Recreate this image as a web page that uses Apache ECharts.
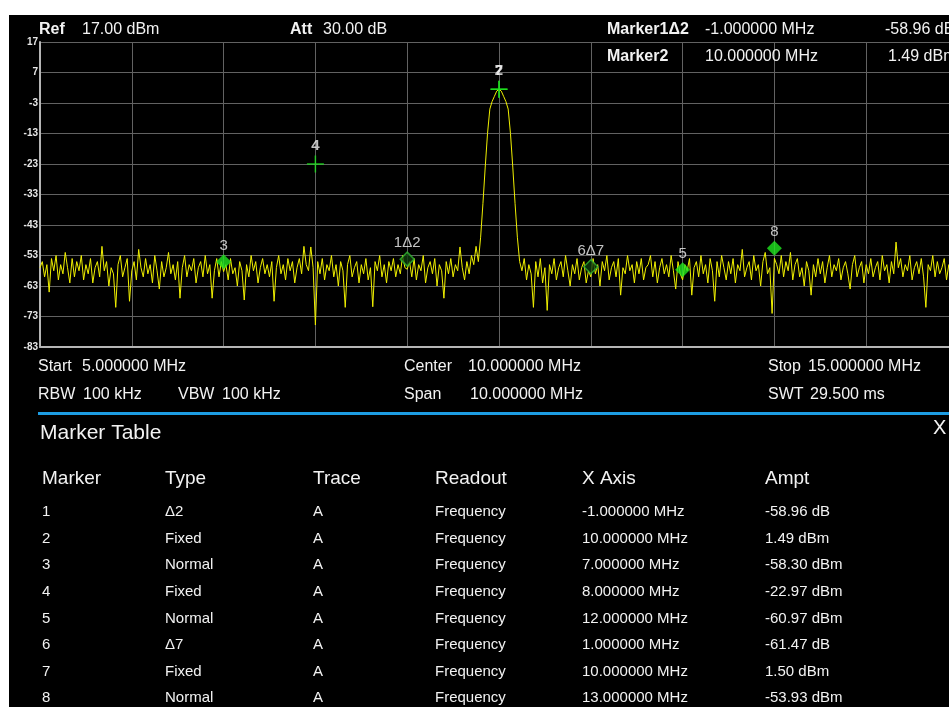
<!DOCTYPE html>
<html>
<head>
<meta charset="utf-8">
<script src="https://cdn.jsdelivr.net/npm/echarts@6/dist/echarts.min.js"></script>
<style>
  html, body { margin: 0; padding: 0; background: #fff; }
  #chart { width: 949px; height: 707px; }
</style>
</head>
<body>
<div id="chart"></div>
<script>
// sweep: 5 .. 15 MHz, 401 points (25 kHz step)
const startFreq = 5;
const stopFreq = 15;
const sweepStep = 0.025;

// trace A amplitudes (dBm)
const traceA = [
  -57, -55, -60, -56, -65, -54, -58, -53, -61, -56, -59, -52, -57, -62, -54, -60, -55, -58, -53, -61,
  -56, -59, -54, -62, -57, -55, -60, -50, -58, -55, -63, -57, -59, -70, -56, -53, -60, -57, -54, -68,
  -58, -55, -61, -51, -57, -60, -54, -59, -56, -62, -53, -58, -64, -55, -60, -57, -52, -59, -56, -61,
  -55, -67, -57, -53, -60, -56, -58, -54, -62, -57, -55, -60, -53, -59, -56, -67, -58, -54, -60, -55,
  -58.3, -56, -61, -54, -59, -57, -63, -55, -58, -67.6, -56, -60, -53, -58, -55, -62, -57, -54, -59, -56,
  -60, -55, -68, -57, -53, -59, -56, -61, -54, -58, -55, -62, -57, -54, -59, -50, -56, -58, -50.2, -57,
  -75.8, -55, -59, -54, -61, -56, -58, -53, -60, -56, -63, -55, -58, -70, -56, -53, -60, -57, -55, -62,
  -56, -59, -54, -61, -57, -69.8, -55, -58, -53, -60, -56, -62, -55, -58, -54, -60, -56, -59, -53, -57,
  -57.5, -55, -60, -54, -61, -56, -58, -53, -62, -57, -55, -59, -54, -63, -56, -58, -67, -55, -59, -54,
  -60, -56, -58, -50.2, -57, -61, -55, -59, -53, -56, -50, -55, -47, -36, -24, -13, -5, -2.5, -0.8, 0.9,
  1.49, 0.9, -0.8, -2.5, -5, -13, -24, -36, -47, -55, -58, -54, -61, -56, -59, -70, -55, -60, -54, -62,
  -57, -71, -56, -59, -54, -61, -57, -55, -60, -53, -58, -63, -56, -59, -54, -61, -57, -55, -62, -58,
  -60, -54, -59, -56, -63, -55, -58, -53, -61, -57, -55, -60, -54, -66, -57, -59, -53, -58, -56, -62,
  -55, -59, -54, -61, -57, -56, -53, -60, -55, -62, -57, -54, -59, -56, -60, -53, -58, -64, -55, -59,
  -61, -56, -58, -54, -66, -57, -55, -60, -53, -59, -56, -62, -54, -58, -68, -55, -60, -53, -57, -61,
  -55, -59, -54, -62, -56, -58, -51, -60, -57, -55, -61, -53, -58, -56, -63, -55, -52, -59, -57, -72,
  -53.9, -56, -59, -53, -60, -55, -58, -52, -61, -56, -54, -60, -57, -63, -55, -58, -66, -56, -60, -54,
  -59, -55, -62, -57, -53, -60, -56, -58, -54, -61, -57, -55, -59, -64, -56, -53, -60, -57, -55, -62,
  -56, -59, -54, -60, -57, -55, -61, -53, -58, -56, -62, -55, -59, -48.6, -57, -54, -60, -56, -58, -53,
  -61, -57, -55, -59, -54, -60, -70, -56, -58, -53, -60, -55, -59, -57, -54, -61, -56, -58, -55, -59,
  -57
];

// amplitude axis
const refLevel = 17;
const bottomLevel = -83;
const dbPerDiv = 10;

// marker table
const markerNo = ['1', '2', '3', '4', '5', '6', '7', '8'];
const markerType = ['Δ2', 'Fixed', 'Normal', 'Fixed', 'Normal', 'Δ7', 'Fixed', 'Normal'];
const markerTrace = ['A', 'A', 'A', 'A', 'A', 'A', 'A', 'A'];
const markerReadout = ['Frequency', 'Frequency', 'Frequency', 'Frequency', 'Frequency', 'Frequency', 'Frequency', 'Frequency'];
const markerX = [-1, 10, 7, 8, 12, 1, 10, 13];             // MHz
const markerAmpt = [-58.96, 1.49, -58.30, -22.97, -60.97, -61.47, 1.50, -53.93];

const tableHead = ['Marker', 'Type', 'Trace', 'Readout', 'X Axis', 'Ampt'];

const isDelta = i => markerType[i].charAt(0) === 'Δ';
const refOf = i => parseInt(markerType[i].slice(1), 10) - 1;
const absFreq = i => isDelta(i) ? markerX[refOf(i)] + markerX[i] : markerX[i];
const absAmpt = i => isDelta(i) ? markerAmpt[refOf(i)] + markerAmpt[i] : markerAmpt[i];
const xText = i => markerX[i].toFixed(6) + ' MHz';
const aText = i => markerAmpt[i].toFixed(2) + (isDelta(i) ? ' dB' : ' dBm');
const mLabel = i => isDelta(i) ? markerNo[i] + markerType[i] : markerNo[i];

const GREEN = '#1fe61f';
const FONT = '"Liberation Sans", Arial, sans-serif';

const chart = echarts.init(document.getElementById('chart'));

function markerData(kind) {
  const out = [];
  markerNo.forEach((n, i) => {
    const k = isDelta(i) ? 'delta' : (markerType[i] === 'Fixed' ? 'fixed' : 'normal');
    if (k === kind) out.push({ name: mLabel(i), value: [absFreq(i), absAmpt(i)] });
  });
  return out;
}

function txt(x, y, s, size, weight, color) {
  return {
    type: 'text', x: x, y: y, z: 100,
    style: {
      text: s, fill: color || '#f2f2f2', fontSize: size || 14,
      fontWeight: weight || 'normal', fontFamily: FONT, verticalAlign: 'middle'
    }
  };
}

const graphics = [
  { type: 'rect', shape: { x: 9, y: 15, width: 940, height: 692 }, style: { fill: '#000' }, z: -10 },
  // header
  txt(39, 30, 'Ref', 16, 'bold'),
  txt(82, 30, refLevel.toFixed(2) + ' dBm', 16),
  txt(290, 30, 'Att', 16, 'bold'),
  txt(323, 30, '30.00 dB', 16),
  txt(607, 30, 'Marker' + mLabel(0), 16, 'bold'),
  txt(705, 30, xText(0), 16),
  txt(885, 30, aText(0), 16),
  txt(607, 57, 'Marker' + mLabel(1), 16, 'bold'),
  txt(705, 57, xText(1), 16),
  txt(888, 57, aText(1), 16),
  // sweep info
  txt(38, 367, 'Start', 16),
  txt(82, 367, startFreq.toFixed(6) + ' MHz', 16),
  txt(404, 367, 'Center', 16),
  txt(468, 367, ((startFreq + stopFreq) / 2).toFixed(6) + ' MHz', 16),
  txt(768, 367, 'Stop', 16),
  txt(808, 367, stopFreq.toFixed(6) + ' MHz', 16),
  txt(38, 395, 'RBW', 16),
  txt(83, 395, '100 kHz', 16),
  txt(178, 395, 'VBW', 16),
  txt(222, 395, '100 kHz', 16),
  txt(404, 395, 'Span', 16),
  txt(470, 395, (stopFreq - startFreq).toFixed(6) + ' MHz', 16),
  txt(768, 395, 'SWT', 16),
  txt(810, 395, '29.500 ms', 16),
  { type: 'rect', shape: { x: 38, y: 412, width: 911, height: 3 }, style: { fill: '#1d9de3' }, z: 100 },
  txt(40, 433, 'Marker Table', 21),
  txt(933, 428, 'X', 20)
];

const colX = [42, 165, 313, 435, 582, 765];
tableHead.forEach((h, c) => graphics.push(txt(colX[c], 479, h, 19)));
markerNo.forEach((n, i) => {
  const y = 512 + i * 26.6;
  const cells = [n, markerType[i], markerTrace[i], markerReadout[i], xText(i), aText(i)];
  cells.forEach((s, c) => graphics.push(txt(colX[c], y, s, 15)));
});

const option = {
  backgroundColor: '#fff',
  animation: false,
  grid: { left: 40, top: 42, width: 918, height: 305, outerBoundsMode: 'none', containLabel: false },
  xAxis: {
    type: 'value', min: startFreq, max: stopFreq, interval: 1,
    axisLabel: { show: false },
    axisTick: { show: false },
    axisLine: { show: true, onZero: false, lineStyle: { color: '#b5b5b5', width: 2 } },
    splitLine: { show: true, lineStyle: { color: '#626262', width: 1 } }
  },
  yAxis: {
    type: 'value', min: bottomLevel, max: refLevel, interval: dbPerDiv,
    axisTick: { show: false },
    axisLine: { show: true, onZero: false, lineStyle: { color: '#b5b5b5', width: 2 } },
    axisLabel: { color: '#e6e6e6', fontSize: 10, fontWeight: 'bold', fontFamily: FONT, margin: 2 },
    splitLine: { show: true, lineStyle: { color: '#626262', width: 1 } }
  },
  graphic: graphics,
  series: [
    {
      name: 'Trace A', type: 'line', showSymbol: false, symbol: 'none',
      data: traceA.map((v, k) => [startFreq + k * sweepStep, v]),
      lineStyle: { color: '#f0f000', width: 1 },
      z: 2
    },
    {
      name: 'Normal', type: 'scatter', symbol: 'diamond', symbolSize: 15, symbolOffset: [0, -10],
      data: markerData('normal'),
      itemStyle: { color: GREEN },
      label: { show: true, position: 'top', distance: 1, formatter: '{b}', color: '#f2f2f2', fontSize: 15, fontFamily: FONT },
      z: 5
    },
    {
      name: 'Delta', type: 'scatter', symbol: 'diamond', symbolSize: 14, symbolOffset: [0, -10],
      data: markerData('delta'),
      itemStyle: { color: '#0c3a0c', borderColor: '#2fb52f', borderWidth: 1.5 },
      label: { show: true, position: 'top', distance: 1, formatter: '{b}', color: '#f2f2f2', fontSize: 15, fontFamily: FONT },
      z: 5
    },
    {
      name: 'Fixed', type: 'scatter',
      symbol: 'path://M0,7.3H16V8.7H0Z M7.3,0H8.7V16H7.3Z', symbolSize: 17,
      data: markerData('fixed'),
      itemStyle: { color: GREEN },
      label: { show: true, position: 'top', distance: 2, formatter: '{b}', color: '#f2f2f2', fontSize: 15, fontWeight: 'bold', fontFamily: FONT },
      z: 5
    }
  ]
};

chart.setOption(option);
</script>
</body>
</html>
